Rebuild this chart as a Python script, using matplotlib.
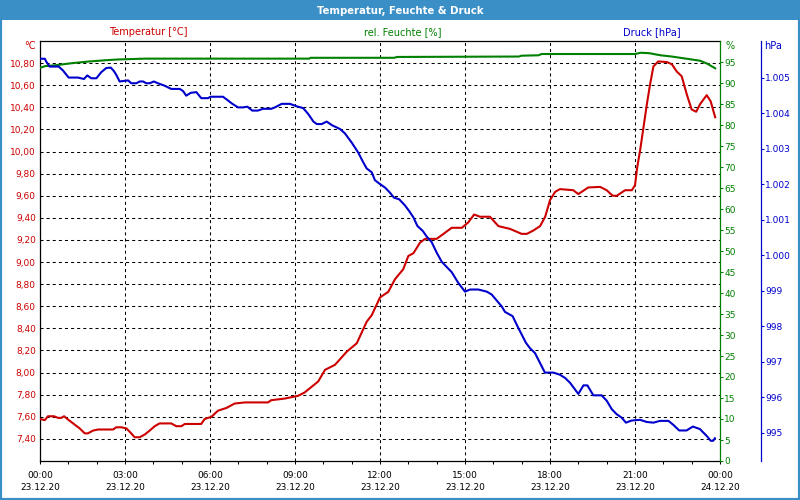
#!/usr/bin/env python3
# -*- coding: utf-8 -*-
"""
Wetterstation: Temperatur, Feuchte & Druck vom 23.12.20 (ein Tag, 3 Achsen)
Ausgabe: out.png (800x500)
"""

import matplotlib
matplotlib.use('Agg')
import matplotlib.pyplot as plt
from matplotlib.ticker import MultipleLocator, FixedLocator, FuncFormatter
from matplotlib.patches import Rectangle

# ============================================================
# Daten (Stunden seit 23.12.20 00:00)
# ============================================================
temp_hours = [0.00, 0.17, 0.28, 0.49, 0.64, 0.75, 0.85, 0.99, 1.22, 1.40,
              1.58, 1.69, 1.87, 2.05, 2.58, 2.69, 2.87, 3.05, 3.22, 3.34,
              3.52, 3.70, 3.87, 4.05, 4.22, 4.63, 4.81, 4.99, 5.11, 5.69,
              5.81, 6.05, 6.28, 6.58, 6.87, 7.23, 8.05, 8.16, 8.64, 9.11,
              9.34, 9.58, 9.82, 10.06, 10.41, 10.83, 11.18, 11.53, 11.71, 12.00,
              12.29, 12.53, 12.82, 13.00, 13.18, 13.41, 13.59, 14.00, 14.24, 14.53,
              14.89, 15.12, 15.32, 15.53, 15.88, 16.18, 16.59, 17.00, 17.18, 17.41,
              17.65, 17.83, 18.00, 18.18, 18.35, 18.82, 19.00, 19.35, 19.77, 20.00,
              20.21, 20.36, 20.65, 20.89, 21.00, 21.08, 21.18, 21.30, 21.42, 21.53,
              21.65, 21.82, 22.12, 22.30, 22.47, 22.65, 22.83, 23.00, 23.16, 23.30,
              23.53, 23.67, 23.83]
temp_values = [7.58, 7.57, 7.605, 7.605, 7.59, 7.59, 7.605, 7.575, 7.53, 7.495,
               7.45, 7.45, 7.475, 7.485, 7.485, 7.505, 7.505, 7.495, 7.45, 7.415,
               7.415, 7.44, 7.475, 7.515, 7.54, 7.54, 7.515, 7.515, 7.535, 7.535,
               7.58, 7.60, 7.655, 7.68, 7.72, 7.73, 7.73, 7.75, 7.765, 7.79,
               7.82, 7.87, 7.92, 8.025, 8.07, 8.19, 8.265, 8.46, 8.52, 8.68,
               8.73, 8.845, 8.935, 9.055, 9.08, 9.175, 9.21, 9.21, 9.255, 9.31,
               9.31, 9.36, 9.43, 9.41, 9.41, 9.325, 9.30, 9.255, 9.255, 9.285,
               9.325, 9.41, 9.56, 9.635, 9.66, 9.65, 9.615, 9.675, 9.68, 9.65,
               9.60, 9.60, 9.65, 9.65, 9.695, 9.86, 10.01, 10.22, 10.43, 10.605,
               10.77, 10.815, 10.81, 10.79, 10.725, 10.68, 10.515, 10.38, 10.36, 10.43,
               10.51, 10.455, 10.31]

hum_hours = [0.00, 0.17, 0.64, 1.10, 1.69, 2.28, 2.75, 3.70, 9.50, 9.55,
             12.50, 12.60, 16.90, 17.00, 17.60, 17.70, 21.00, 21.20, 21.50, 21.90,
             22.30, 22.60, 23.00, 23.30, 23.55, 23.83]
hum_values = [93.6, 94.0, 94.3, 94.7, 95.1, 95.4, 95.6, 95.8, 95.8, 96.0,
              96.0, 96.2, 96.3, 96.5, 96.6, 96.9, 96.9, 97.2, 97.1, 96.6,
              96.3, 96.0, 95.6, 95.3, 94.6, 93.5]

press_hours = [0.00, 0.17, 0.22, 0.34, 0.66, 0.81, 1.01, 1.34, 1.55, 1.67,
               1.81, 1.99, 2.16, 2.34, 2.50, 2.61, 2.69, 2.81, 3.11, 3.22,
               3.40, 3.52, 3.64, 3.75, 3.87, 4.02, 4.16, 4.40, 4.63, 4.93,
               5.05, 5.16, 5.32, 5.52, 5.69, 5.93, 6.02, 6.46, 6.64, 6.79,
               6.99, 7.16, 7.32, 7.49, 7.69, 7.87, 8.16, 8.29, 8.53, 8.82,
               9.06, 9.29, 9.47, 9.65, 9.77, 9.94, 10.12, 10.30, 10.59, 10.76,
               11.00, 11.23, 11.41, 11.53, 11.71, 11.82, 12.00, 12.18, 12.35, 12.49,
               12.68, 12.88, 13.03, 13.18, 13.32, 13.51, 13.65, 13.82, 14.00, 14.18,
               14.35, 14.53, 14.76, 15.00, 15.18, 15.47, 15.77, 15.94, 16.12, 16.30,
               16.41, 16.68, 16.88, 17.15, 17.29, 17.47, 17.65, 17.82, 18.12, 18.35,
               18.53, 18.71, 19.00, 19.18, 19.32, 19.53, 19.82, 20.00, 20.18, 20.35,
               20.53, 20.68, 20.88, 21.18, 21.41, 21.65, 21.88, 22.18, 22.35, 22.56,
               22.82, 23.04, 23.29, 23.44, 23.55, 23.67, 23.76, 23.82]
press_values = [1005.53, 1005.53, 1005.45, 1005.31, 1005.31, 1005.20, 1005.00, 1005.00, 1004.96, 1005.06,
                1004.98, 1004.98, 1005.15, 1005.27, 1005.28, 1005.18, 1005.08, 1004.89, 1004.92, 1004.84,
                1004.84, 1004.89, 1004.89, 1004.84, 1004.84, 1004.89, 1004.84, 1004.77, 1004.68, 1004.68,
                1004.62, 1004.49, 1004.57, 1004.59, 1004.42, 1004.42, 1004.46, 1004.46, 1004.35, 1004.26,
                1004.16, 1004.16, 1004.18, 1004.07, 1004.07, 1004.12, 1004.12, 1004.16, 1004.26, 1004.26,
                1004.19, 1004.14, 1003.97, 1003.76, 1003.69, 1003.69, 1003.76, 1003.66, 1003.55, 1003.43,
                1003.17, 1002.89, 1002.61, 1002.44, 1002.33, 1002.11, 1002.00, 1001.90, 1001.76, 1001.62,
                1001.57, 1001.40, 1001.24, 1001.06, 1000.82, 1000.68, 1000.52, 1000.37, 1000.07, 999.81,
                999.67, 999.52, 999.22, 998.97, 999.03, 999.03, 998.97, 998.89, 998.72, 998.55,
                998.40, 998.28, 997.95, 997.53, 997.38, 997.24, 996.96, 996.69, 996.69, 996.63,
                996.54, 996.40, 996.09, 996.33, 996.33, 996.05, 996.05, 995.90, 995.66, 995.52,
                995.42, 995.28, 995.34, 995.36, 995.30, 995.28, 995.33, 995.33, 995.22, 995.06,
                995.06, 995.17, 995.10, 994.98, 994.89, 994.77, 994.77, 994.84]

temp_ticks = [7.4, 7.6, 7.8, 8.0, 8.2, 8.4, 8.6, 8.8, 9.0, 9.2,
              9.4, 9.6, 9.8, 10.0, 10.2, 10.4, 10.6, 10.8]
hum_ticks = list(range(0, 100, 5))
press_ticks = [995, 996, 997, 998, 999, 1000, 1001, 1002, 1003, 1004, 1005]

# ============================================================
# Stil
# ============================================================
RED = '#cc0000'
GREEN = '#008000'
BLUE = '#0000cc'
FRAME = '#3b8fc7'
FS = 6.5

plt.rcParams['font.family'] = ['DejaVu Sans']
plt.rcParams['lines.scale_dashes'] = False


def time_label(h, pos):
    h = int(round(h))
    if h >= 24:
        return "00:00\n24.12.20"
    return f"{h:02d}:00\n23.12.20"


def main():
    fig = plt.figure(figsize=(8, 5), dpi=100)
    fig.patch.set_facecolor('white')

    # Titelleiste + Rahmen
    fig.patches.append(Rectangle((0, 0.96), 1, 0.04, transform=fig.transFigure,
                                 facecolor=FRAME, edgecolor='none', zorder=0))
    fig.patches.append(Rectangle((0, 0), 1, 1, transform=fig.transFigure,
                                 fill=False, edgecolor=FRAME, linewidth=3, zorder=0))
    fig.text(0.5, 0.979, "Temperatur, Feuchte & Druck", color='white',
             fontsize=7.3, fontweight='bold', ha='center', va='center')

    ax = fig.add_axes([0.05, 0.078, 0.85, 0.84])
    ax2 = ax.twinx()
    ax3 = ax.twinx()

    # Temperatur (links)
    ax.plot(temp_hours, temp_values, color=RED, linewidth=1.5, zorder=3)
    ax.set_xlim(0, 24)
    ax.set_ylim(7.2, 11.0)
    ax.yaxis.set_major_locator(FixedLocator(temp_ticks))
    ax.yaxis.set_major_formatter(FuncFormatter(lambda v, p: f"{v:.2f}".replace('.', ',')))
    ax.tick_params(axis='y', length=0, pad=3, labelcolor=RED, labelsize=FS)

    ax.xaxis.set_major_locator(MultipleLocator(3))
    ax.xaxis.set_minor_locator(MultipleLocator(1))
    ax.xaxis.set_major_formatter(FuncFormatter(time_label))
    ax.tick_params(axis='x', which='both', length=2.2, width=0.75, pad=5,
                   labelsize=FS, color='black')
    for lbl in ax.get_xticklabels():
        lbl.set_linespacing(1.5)

    grid_style = dict(color='black', linewidth=0.75, linestyle=(0, (2.2, 2.2)))
    ax.grid(axis='y', which='major', **grid_style)
    ax.grid(axis='x', which='major', **grid_style)
    ax.spines['right'].set_visible(False)
    for s in ['top', 'left', 'bottom']:
        ax.spines[s].set_linewidth(0.9)

    # Feuchte (rechts)
    ax2.plot(hum_hours, hum_values, color=GREEN, linewidth=1.5)
    ax2.set_ylim(0, 100)
    ax2.yaxis.set_major_locator(FixedLocator(hum_ticks))
    ax2.tick_params(axis='y', length=2.2, width=0.75, pad=1, color=GREEN,
                    labelcolor=GREEN, labelsize=FS)
    for s in ['top', 'left', 'bottom']:
        ax2.spines[s].set_visible(False)
    ax2.spines['right'].set_color(GREEN)
    ax2.spines['right'].set_linewidth(0.9)

    # Druck (ganz rechts)
    ax3.plot(press_hours, press_values, color=BLUE, linewidth=1.5)
    ax3.set_ylim(994.2, 1006.03)
    ax3.yaxis.set_major_locator(FixedLocator(press_ticks))
    ax3.yaxis.set_major_formatter(FuncFormatter(lambda v, p: f"{int(round(v)):,}".replace(',', '.')))
    ax3.spines['right'].set_position(('axes', 1.06))
    for s in ['top', 'left', 'bottom']:
        ax3.spines[s].set_visible(False)
    ax3.spines['right'].set_color(BLUE)
    ax3.spines['right'].set_linewidth(0.9)
    ax3.tick_params(axis='y', length=2.2, width=0.75, pad=1, color=BLUE,
                    labelcolor=BLUE, labelsize=FS)

    # Einheiten und Legenden-Kopf
    fig.text(36 / 800, 1 - 46 / 500, "°C", color=RED, fontsize=7, ha='right', va='center')
    fig.text(725 / 800, 1 - 46 / 500, "%", color=GREEN, fontsize=7, ha='left', va='center')
    fig.text(764 / 800, 1 - 46 / 500, "hPa", color=BLUE, fontsize=7, ha='left', va='center')
    fig.text(148 / 800, 1 - 32 / 500, "Temperatur [°C]", color=RED, fontsize=7, ha='center', va='center')
    fig.text(403 / 800, 1 - 32 / 500, "rel. Feuchte [%]", color=GREEN, fontsize=7, ha='center', va='center')
    fig.text(652 / 800, 1 - 32 / 500, "Druck [hPa]", color=BLUE, fontsize=7, ha='center', va='center')

    fig.savefig('out.png', dpi=100)


if __name__ == "__main__":
    main()
